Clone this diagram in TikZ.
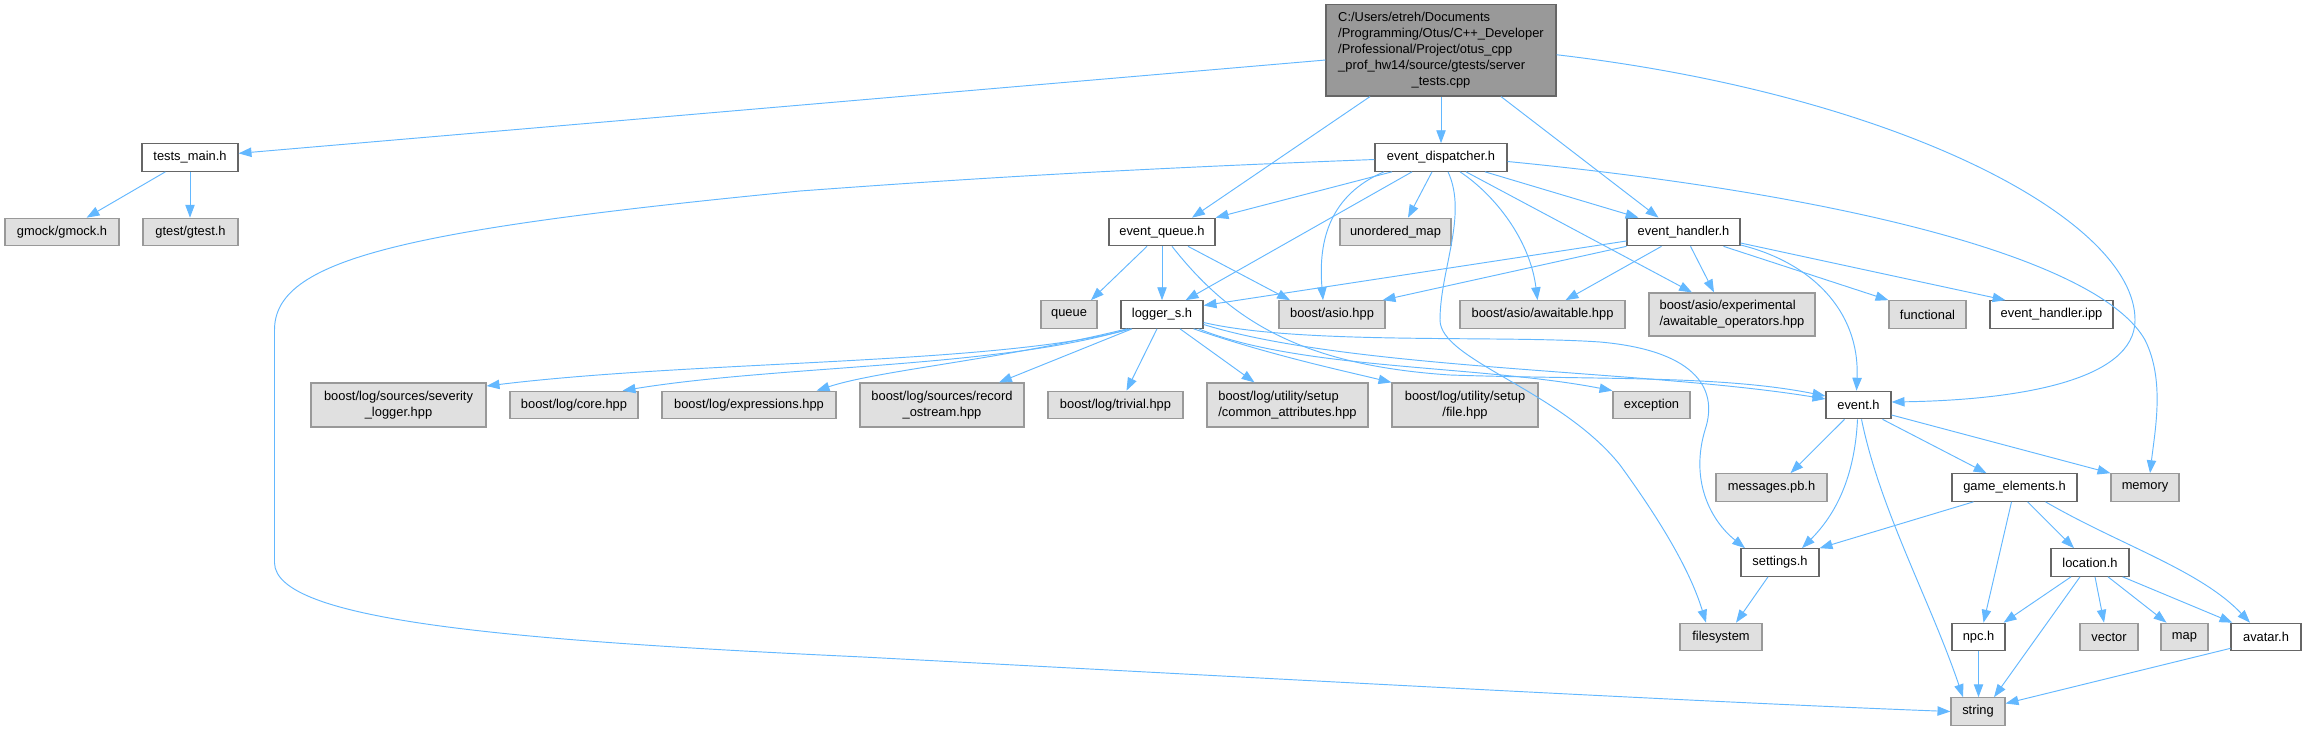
\documentclass[tikz,border=0pt]{standalone}
\usepackage{fontspec}
\setmainfont{Liberation Sans}
\usetikzlibrary{arrows.meta,calc}
\definecolor{edgec}{HTML}{63B8FF}
\definecolor{gfill}{HTML}{E0E0E0}
\definecolor{gline}{HTML}{999999}
\definecolor{wline}{HTML}{666666}
\definecolor{sfill}{HTML}{999999}
\newdimen\pu \pu=0.03cm
\newcommand\dfont{\fontsize{11}{13.66}\selectfont}
\newcommand\bx[7]{\node[#1, minimum width=#5\pu, minimum height=#6\pu] (#2) at (#3,#4) {#7};}
\newcommand\tl[2]{\begin{tabular}{@{}l@{}}#1\\\multicolumn{1}{@{}c@{}}{#2}\end{tabular}}
\tikzset{
  wbox/.style={draw=wline, fill=white, line width=1pt, inner sep=0pt, font=\dfont},
  gbox/.style={draw=gline, fill=gfill, line width=1pt, inner sep=0pt, font=\dfont},
  sbox/.style={draw=wline, fill=sfill, line width=1pt, inner sep=0pt, font=\dfont},
  edg/.style={draw=edgec, line width=0.8pt, -{Triangle[length=11pt,width=8pt]}},
}
\begin{document}
\begin{tikzpicture}[x=0.03cm, y=-0.03cm]
\fill[white] (0,0) rectangle (2306,731);
\useasboundingbox (0,0) rectangle (2306,731);
% ---------- nodes ----------
\bx{sbox}{src}{1441}{50.25}{230}{91.5}{\begin{tabular}{@{}l@{}}C:/Users/etreh/Documents\\/Programming/Otus/C++\_Developer\\/Professional/Project/otus\_cpp\\\_prof\_hw14/source/gtests/server\\\multicolumn{1}{@{}c@{}}{\_tests.cpp}\end{tabular}}
\bx{wbox}{tm}{190}{157.5}{96}{27.5}{tests\_main.h}
\bx{gbox}{gmock}{62}{232}{114}{27.5}{gmock/gmock.h}
\bx{gbox}{gtest}{190.5}{232}{95}{27.5}{gtest/gtest.h}
\bx{wbox}{ed}{1441}{157.5}{132}{27.5}{event\_dispatcher.h}
\bx{wbox}{eq}{1162}{232}{106}{27.5}{event\_queue.h}
\bx{gbox}{um}{1395.5}{232}{111}{27.5}{unordered\_map}
\bx{wbox}{eh}{1683.5}{232}{113}{27.5}{event\_handler.h}
\bx{gbox}{queue}{1069}{314.5}{56}{27.5}{queue}
\bx{wbox}{lg}{1162}{314.5}{82}{27.5}{logger\_s.h}
\bx{gbox}{asio}{1332}{314.5}{106}{27.5}{boost/asio.hpp}
\bx{gbox}{await}{1542.5}{314.5}{165}{27.5}{boost/asio/awaitable.hpp}
\bx{gbox}{awops}{1732}{314.5}{166}{43}{\tl{boost/asio/experimental}{/awaitable\_operators.hpp}}
\bx{gbox}{func}{1927.5}{314.5}{77}{27.5}{functional}
\bx{wbox}{ehipp}{2051.5}{314.5}{123}{27.5}{event\_handler.ipp}
\bx{gbox}{sev}{398.5}{405}{175}{44}{\tl{boost/log/sources/severity}{\_logger.hpp}}
\bx{gbox}{core}{574}{405}{128}{27.5}{boost/log/core.hpp}
\bx{gbox}{expr}{749}{405}{174}{27.5}{boost/log/expressions.hpp}
\bx{gbox}{rec}{942}{405}{164}{44}{\tl{boost/log/sources/record}{\_ostream.hpp}}
\bx{gbox}{triv}{1115.5}{405}{135}{27.5}{boost/log/trivial.hpp}
\bx{gbox}{common}{1287.5}{405}{161}{44}{\tl{boost/log/utility/setup}{/common\_attributes.hpp}}
\bx{gbox}{file}{1465}{405}{146}{44}{\tl{boost/log/utility/setup}{/file.hpp}}
\bx{gbox}{exc}{1651.5}{405}{77}{27.5}{exception}
\bx{wbox}{ev}{1858.5}{405}{65}{27.5}{event.h}
\bx{gbox}{msg}{1771.5}{487.5}{111}{27.5}{messages.pb.h}
\bx{wbox}{ge}{2014.5}{487.5}{125}{27.5}{game\_elements.h}
\bx{gbox}{mem}{2145}{487.5}{68}{27.5}{memory}
\bx{wbox}{set}{1780}{562.5}{78}{27.5}{settings.h}
\bx{wbox}{loc}{2090}{562.5}{78}{27.5}{location.h}
\bx{gbox}{fs}{1721}{637}{82}{27.5}{filesystem}
\bx{wbox}{npc}{1978.5}{637}{53}{27.5}{npc.h}
\bx{gbox}{vec}{2109}{637}{58}{27.5}{vector}
\bx{gbox}{map}{2184.5}{637}{47}{27.5}{map}
\bx{wbox}{av}{2266}{637}{70}{27.5}{avatar.h}
\bx{gbox}{str}{1978}{711.5}{54}{27.5}{string}
% ---------- edges ----------
% server_tests.cpp
\draw[edg] (src) -- (tm);
\draw[edg] ($(src.south)+(-71,0)$) -- ($(eq.north)+(30,0)$);
\draw[edg] (src) -- (ed);
\draw[edg] ($(src.south)+(60,0)$) -- ($(eh.north)+(-25,0)$);
\draw[edg] ($(src.east)+(0,4.5)$) .. controls (1900,95) and (2135,220) .. (2135,320)
  .. controls (2135,380) and (2020,400) .. ($(ev.east)+(0,-3)$);
% tests_main.h
\draw[edg] (tm) -- (gmock);
\draw[edg] (tm.south) -- (tm.south |- gtest.north);
% event_dispatcher.h
\draw[edg] ($(ed.west)+(0,2)$) .. controls (1100,170) and (950,180) .. (800,191)
  .. controls (400,230) and (274.5,260) .. (274.5,330) -- (274.5,563)
  .. controls (276,620) and (500,640) .. (863,657)
  .. controls (1300,680) and (1700,702) .. (str.west);
\draw[edg] ($(ed.south)+(-49,0)$) -- (eq.north east);
\draw[edg] ($(ed.south)+(-9,0)$) -- ($(um.north)+(12.5,0)$);
\draw[edg] ($(ed.south)+(-29,0)$) -- ($(lg.north east)+(-18,0)$);
\draw[edg] ($(ed.south)+(-57,0)$) .. controls (1330,195) and (1318,240) .. ($(asio.north)+(-9,0)$);
\draw[edg] ($(ed.south)+(44,0)$) -- ($(eh.north)+(-45,0)$);
\draw[edg] ($(ed.south)+(19,0)$) .. controls (1495,195) and (1530,240) .. ($(await.north)+(-5,0)$);
\draw[edg] ($(ed.south)+(25,0)$) -- ($(awops.north)+(-40,0)$);
\draw[edg] ($(ed.east)+(0,4)$) .. controls (1850,195) and (2100,260) .. (2145,340)
  .. controls (2165,380) and (2155,430) .. ($(mem.north)+(5,0)$);
\draw[edg] ($(ed.south)+(7,0)$) .. controls (1468,215) and (1440,270) .. (1440,320)
  .. controls (1440,360) and (1560,390) .. (1620,465)
  .. controls (1660,520) and (1690,570) .. ($(fs.north)+(-15,0)$);
% event_queue.h
\draw[edg] ($(eq.south)+(-15,0)$) -- ($(queue.north)+(22,0)$);
\draw[edg] (eq) -- (lg);
\draw[edg] ($(eq.south)+(26,0)$) -- ($(asio.north)+(-42,0)$);
\draw[edg] ($(eq.south)+(10,0)$) .. controls (1230,320) and (1300,365) .. (1450,375)
  .. controls (1600,380) and (1720,375) .. ($(ev.west)+(0,-9)$);
% event_handler.h
\draw[edg] ($(eh.west)+(0,9)$) -- ($(lg.east)+(0,-9)$);
\draw[edg] (eh.south west) -- ($(asio.north east)+(-3,0)$);
\draw[edg] ($(eh.south)+(-22,0)$) -- ($(await.north)+(23,0)$);
\draw[edg] ($(eh.south)+(7,0)$) -- ($(awops.north)+(-18,0)$);
\draw[edg] ($(eh.south)+(40,0)$) -- (func.north west);
\draw[edg] ($(eh.east)+(0,11)$) -- ($(ehipp.north)+(-46,0)$);
\draw[edg] ($(eh.east)+(0,13)$) .. controls (1810,262) and (1860,310) .. ($(ev.north)+(-2,0)$);
% logger_s.h
\draw[edg] ($(lg.south)+(-31,0)$) .. controls (1000,365) and (700,360) .. ($(sev.east)+(0,-19)$);
\draw[edg] ($(lg.south)+(-33,0)$) .. controls (1000,368) and (780,365) .. ($(core.north east)+(-16,0)$);
\draw[edg] ($(lg.south)+(-35,0)$) .. controls (1000,360) and (880,370) .. ($(expr.north east)+(-20,0)$);
\draw[edg] ($(lg.south)+(-30,0)$) -- ($(rec.north)+(57,0)$);
\draw[edg] ($(lg.south)+(-5,0)$) -- ($(triv.north)+(11,0)$);
\draw[edg] ($(lg.south)+(18,0)$) -- ($(common.north)+(-33,0)$);
\draw[edg] ($(lg.south east)+(-10,0)$) .. controls (1270,355) and (1340,370) .. (file.north west);
\draw[edg] ($(lg.south east)+(-5,0)$) .. controls (1300,370) and (1480,365) .. (exc.north west);
\draw[edg] ($(lg.east)+(0,10)$) .. controls (1350,370) and (1650,370) .. ($(ev.west)+(0,-6)$);
\draw[edg] ($(lg.east)+(0,8)$) .. controls (1300,345) and (1500,335) .. (1600,342)
  .. controls (1690,350) and (1720,385) .. (1705,430)
  .. controls (1690,480) and (1710,520) .. ($(set.north)+(-35,0)$);
% event.h
\draw[edg] ($(ev.south)+(-14,0)$) -- ($(msg.north)+(19,0)$);
\draw[edg] ($(ev.south)+(-1,0)$) .. controls (1855,470) and (1840,510) .. ($(set.north)+(22,0)$);
\draw[edg] ($(ev.south)+(24,0)$) -- ($(ge.north)+(-28,0)$);
\draw[edg] ($(ev.east)+(0,10)$) -- (mem.north west);
\draw[edg] ($(ev.south)+(3,0)$) .. controls (1880,510) and (1930,600) .. ($(str.north)+(-15,0)$);
% game_elements.h
\draw[edg] ($(ge.south)+(-41,0)$) -- (set.north east);
\draw[edg] ($(ge.south)+(-3,0)$) -- ($(npc.north)+(5,0)$);
\draw[edg] ($(ge.south)+(13,0)$) -- ($(loc.north)+(-16,0)$);
\draw[edg] ($(ge.south)+(31,0)$) .. controls (2120,545) and (2200,570) .. ($(av.north)+(-16,0)$);
% location.h
\draw[edg] ($(loc.south)+(-19,0)$) -- ($(npc.north east)+(-2,0)$);
\draw[edg] ($(loc.south)+(-10,0)$) -- ($(str.north)+(16,0)$);
\draw[edg] ($(loc.south)+(5,0)$) -- ($(vec.north)+(-5,0)$);
\draw[edg] ($(loc.south)+(18,0)$) -- ($(map.north)+(-18,0)$);
\draw[edg] ($(loc.south east)+(-7,0)$) -- ($(av.north west)+(2,0)$);
% settings.h, npc.h, avatar.h
\draw[edg] ($(set.south)+(-12,0)$) -- ($(fs.north)+(15,0)$);
\draw[edg] (npc.south) -- (npc.south |- str.north);
\draw[edg] ($(av.south west)+(0,-3)$) -- ($(str.east)+(0,-8)$);
\end{tikzpicture}
\end{document}
